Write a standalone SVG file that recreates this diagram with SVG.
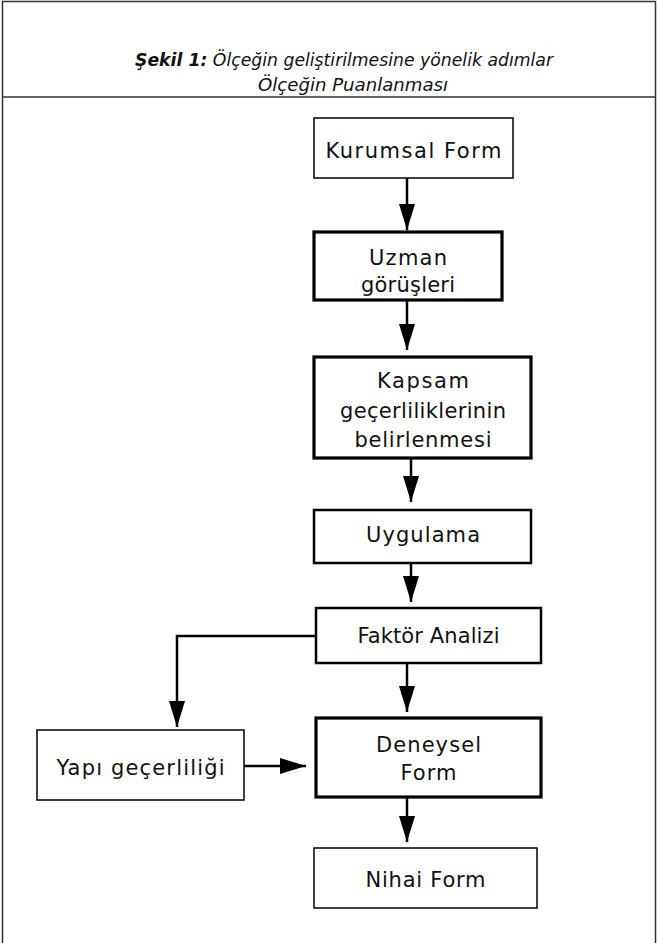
<svg xmlns="http://www.w3.org/2000/svg" width="658" height="943" viewBox="0 0 658 943">
<style>
.frame{fill:none;stroke:#333;stroke-width:1.5}
.box{fill:#fff;stroke:#000}
.thin{stroke-width:1.5}
.mid{stroke-width:2.5}
.thick{stroke-width:3.2}
.lbl{font-family:"DejaVu Sans","Noto Sans",sans-serif;font-size:21px;fill:#111;text-anchor:middle}
.ttl{font-family:"DejaVu Sans","Noto Sans",sans-serif;font-size:18px;font-style:italic;fill:#111;text-anchor:middle}
.conn{fill:none;stroke:#000;stroke-width:2.5}
</style>
<defs>
<marker id="ah" markerUnits="userSpaceOnUse" markerWidth="26" markerHeight="16" refX="26" refY="8" orient="auto">
<path d="M0,0 L26,8 L0,16 z" fill="#000"/>
</marker>
</defs>
<g id="frame">
<rect class="frame" x="2.5" y="1.5" width="653" height="950"/>
<line class="frame" x1="2.5" y1="97" x2="655.5" y2="97"/>
<text class="ttl" x="344" y="66" textLength="418" lengthAdjust="spacingAndGlyphs"><tspan font-weight="bold">Şekil 1:</tspan> Ölçeğin geliştirilmesine yönelik adımlar</text>
<text class="ttl" x="353" y="91" textLength="190" lengthAdjust="spacingAndGlyphs">Ölçeğin Puanlanması</text>
</g>
<g id="connectors">
<line class="conn" x1="407" y1="178" x2="407" y2="230" marker-end="url(#ah)"/>
<line class="conn" x1="407" y1="300" x2="407" y2="350" marker-end="url(#ah)"/>
<line class="conn" x1="411" y1="458" x2="411" y2="502" marker-end="url(#ah)"/>
<line class="conn" x1="411" y1="563" x2="411" y2="602" marker-end="url(#ah)"/>
<line class="conn" x1="407" y1="663" x2="407" y2="712" marker-end="url(#ah)"/>
<line class="conn" x1="407" y1="797" x2="407" y2="842" marker-end="url(#ah)"/>
<path class="conn" d="M316,636 H177 V727" marker-end="url(#ah)"/>
<line class="conn" x1="244" y1="766" x2="306" y2="766" marker-end="url(#ah)"/>
</g>
<g id="n1">
<rect class="box thin" x="314" y="118" width="199" height="60"/>
<text class="lbl" x="413.5" y="158" textLength="176" lengthAdjust="spacing">Kurumsal Form</text>
</g>
<g id="n2">
<rect class="box thick" x="314" y="232" width="188" height="68"/>
<text class="lbl" x="408" y="265" textLength="78" lengthAdjust="spacing">Uzman</text>
<text class="lbl" x="408" y="292" textLength="94" lengthAdjust="spacing">görüşleri</text>
</g>
<g id="n3">
<rect class="box thick" x="314" y="357" width="217" height="101"/>
<text class="lbl" x="423" y="388" textLength="92" lengthAdjust="spacing">Kapsam</text>
<text class="lbl" x="423" y="418" textLength="166" lengthAdjust="spacing">geçerliliklerinin</text>
<text class="lbl" x="423" y="447" textLength="137" lengthAdjust="spacing">belirlenmesi</text>
</g>
<g id="n4">
<rect class="box mid" x="314" y="510" width="217" height="53"/>
<text class="lbl" x="423" y="542" textLength="114" lengthAdjust="spacing">Uygulama</text>
</g>
<g id="n5">
<rect class="box mid" x="316" y="608" width="225" height="55"/>
<text class="lbl" x="428.5" y="643" textLength="142" lengthAdjust="spacing">Faktör Analizi</text>
</g>
<g id="n6">
<rect class="box thin" x="37" y="730" width="207" height="70"/>
<text class="lbl" x="140.5" y="775" textLength="168" lengthAdjust="spacing">Yapı geçerliliği</text>
</g>
<g id="n7">
<rect class="box thick" x="316" y="718" width="225" height="79"/>
<text class="lbl" x="428.5" y="752" textLength="105" lengthAdjust="spacing">Deneysel</text>
<text class="lbl" x="428.5" y="780" textLength="56" lengthAdjust="spacing">Form</text>
</g>
<g id="n8">
<rect class="box thin" x="314" y="848" width="223" height="60"/>
<text class="lbl" x="425.5" y="887" textLength="120" lengthAdjust="spacing">Nihai Form</text>
</g>
</svg>
